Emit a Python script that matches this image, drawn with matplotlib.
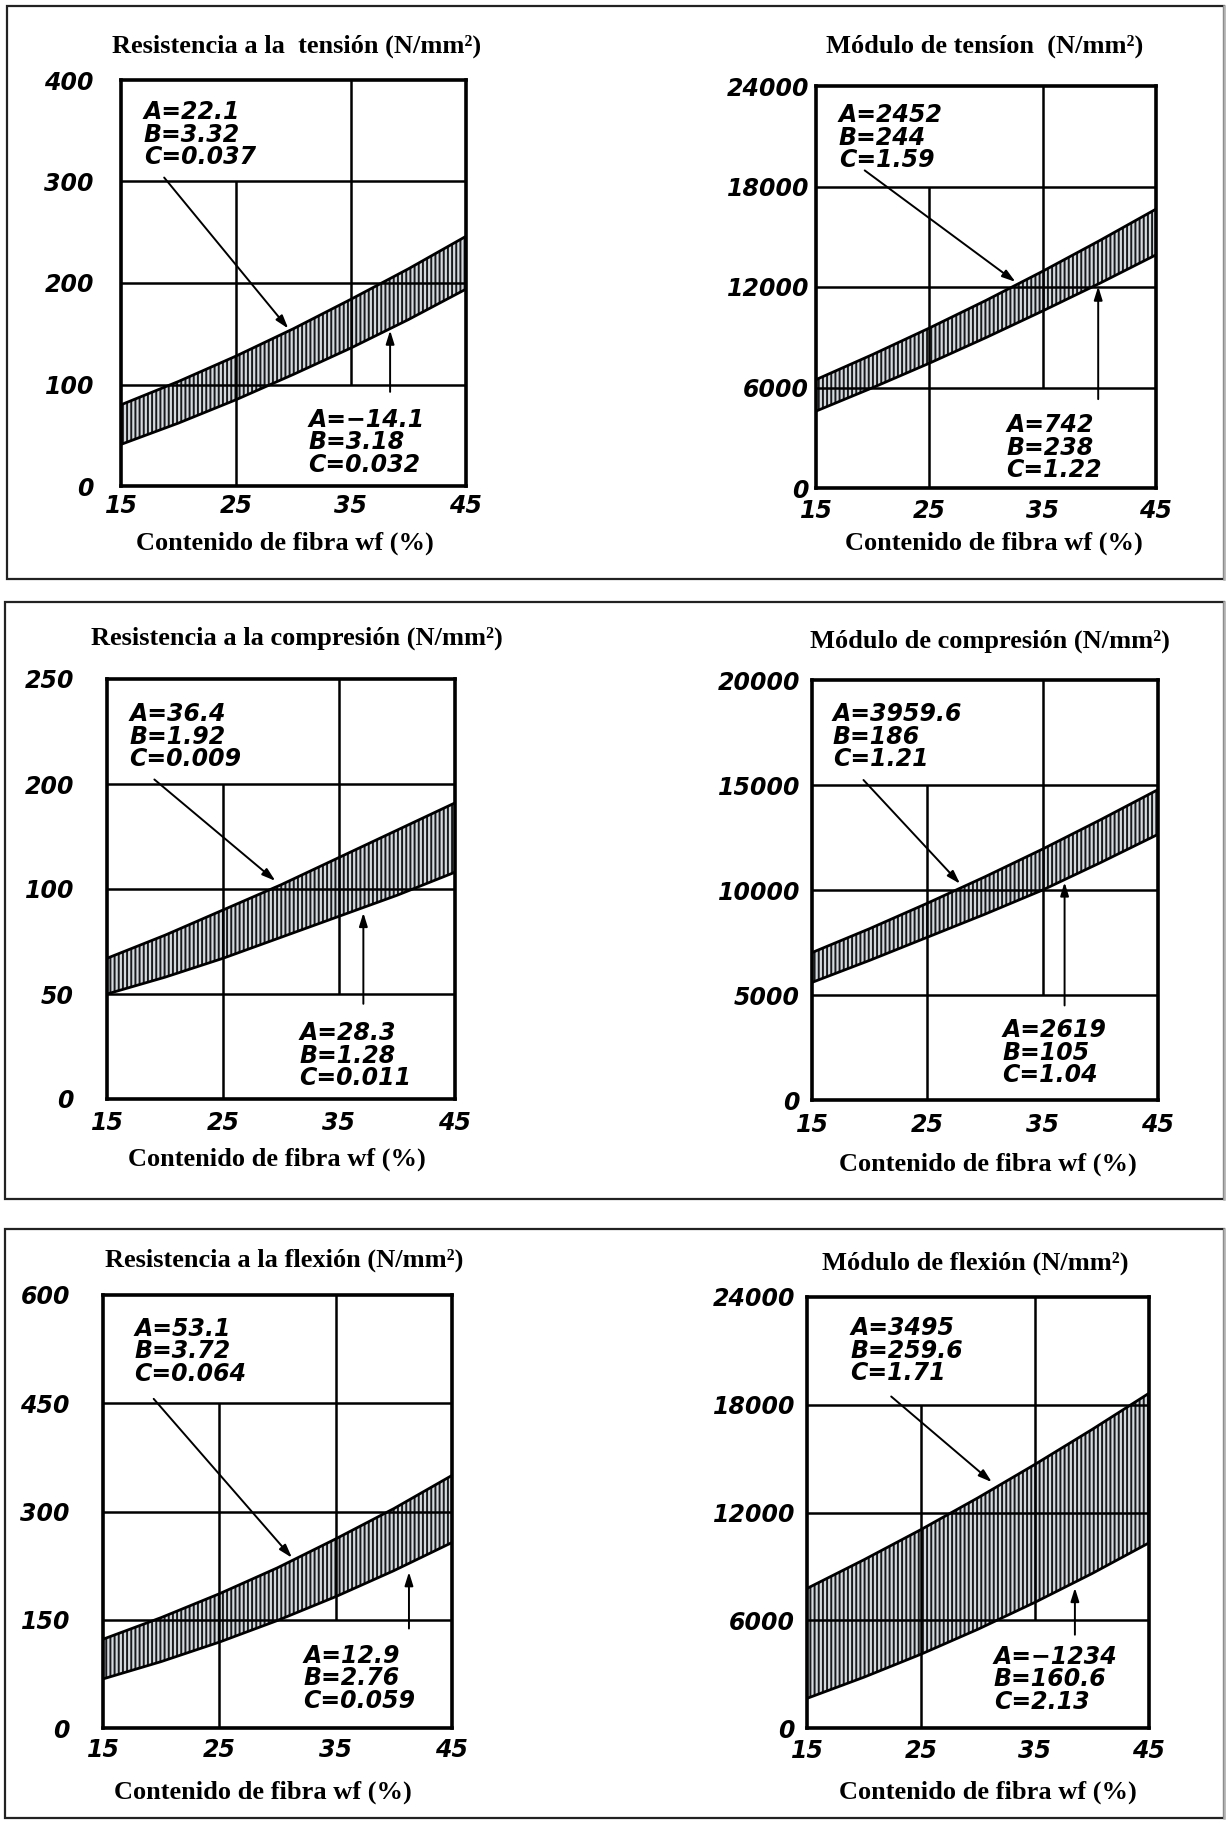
import matplotlib
matplotlib.use('Agg')
import matplotlib.pyplot as plt
from matplotlib.patches import Rectangle

plt.rcParams['hatch.linewidth'] = 1.4

# contenido de fibra wf (%)
fibra = [15, 20, 25, 30, 35, 40, 45]
x_ticks = [15, 25, 35, 45]

# resistencia a la tension
rt_sup = [80, 103, 128, 155, 184, 214, 246]
rt_inf = [41, 62, 85, 110, 136, 164, 194]
rt_yticks = [0, 100, 200, 300, 400]
rt_ylabels = ['0', '100', '200', '300', '400']

# modulo de tension
mt_sup = [6470, 7970, 9550, 11200, 12940, 14760, 16650]
mt_inf = [4590, 5990, 7450, 8980, 10570, 12210, 13920]
mt_yticks = [0, 6000, 12000, 18000, 24000]
mt_ylabels = ['0', '6000', '12000', '18000', '24000']

# resistencia a la compresion (etiquetas tal como en el original)
rc_sup = [67, 78, 90, 102, 115, 128, 141]
rc_inf = [50, 58, 67, 77, 87, 97, 108]
rc_yticks = [0, 50, 100, 150, 200]
rc_ylabels = ['0', '50', '100', '200', '250']

# modulo de compresion
mc_sup = [7020, 8160, 9370, 10630, 11950, 13340, 14780]
mc_inf = [5600, 6650, 7750, 8850, 10000, 11300, 12650]
mc_yticks = [0, 5000, 10000, 15000, 20000]
mc_ylabels = ['0', '5000', '10000', '15000', '20000']

# resistencia a la flexion
rf_sup = [123, 153, 186, 222, 262, 304, 350]
rf_inf = [68, 92, 119, 149, 182, 218, 257]
rf_yticks = [0, 150, 300, 450, 600]
rf_ylabels = ['0', '150', '300', '450', '600']

# modulo de flexion
mf_sup = [7770, 9370, 11050, 12820, 14680, 16620, 18640]
mf_inf = [1650, 2830, 4110, 5500, 7000, 8600, 10310]
mf_yticks = [0, 6000, 12000, 18000, 24000]
mf_ylabels = ['0', '6000', '12000', '18000', '24000']

titles = ['Resistencia a la  tensión (N/mm²)', 'Módulo de tensíon  (N/mm²)',
          'Resistencia a la compresión (N/mm²)', 'Módulo de compresión (N/mm²)',
          'Resistencia a la flexión (N/mm²)', 'Módulo de flexión (N/mm²)']
xlabel = 'Contenido de fibra wf (%)'

coef_sup = ['A=22.1\nB=3.32\nC=0.037', 'A=2452\nB=244\nC=1.59',
            'A=36.4\nB=1.92\nC=0.009', 'A=3959.6\nB=186\nC=1.21',
            'A=53.1\nB=3.72\nC=0.064', 'A=3495\nB=259.6\nC=1.71']
coef_inf = ['A=\u221214.1\nB=3.18\nC=0.032', 'A=742\nB=238\nC=1.22',
            'A=28.3\nB=1.28\nC=0.011', 'A=2619\nB=105\nC=1.04',
            'A=12.9\nB=2.76\nC=0.059', 'A=\u22121234\nB=160.6\nC=2.13']

series = [(rt_sup, rt_inf, rt_yticks, rt_ylabels),
          (mt_sup, mt_inf, mt_yticks, mt_ylabels),
          (rc_sup, rc_inf, rc_yticks, rc_ylabels),
          (mc_sup, mc_inf, mc_yticks, mc_ylabels),
          (rf_sup, rf_inf, rf_yticks, rf_ylabels),
          (mf_sup, mf_inf, mf_yticks, mf_ylabels)]

# layout in pixels of the page: axes box, title centre, xlabel centre,
# y label pad (px), x label pad (pt), upper text, upper arrow, lower text, lower arrow
layout = [
    ((121, 80, 466, 486), (297, 46), (285, 543), 27, 6,
     (17.0, 380), (18.6, 306, 29.7, 153), (31.3, 77), (38.4, 90, 156)),
    ((816, 86, 1156, 488), (985, 46), (994, 543), 7, 8,
     (17.0, 22970), (19.1, 19060, 32.8, 12206), (31.8, 4457), (39.9, 5140, 12200)),
    ((107, 679, 455, 1099), (297, 638), (277, 1159), 33, 9,
     (16.9, 189), (18.9, 153, 29.7, 103), (31.6, 37), (37.1, 44, 90)),
    ((812, 680, 1158, 1100), (990, 641), (988, 1164), 12, 9,
     (16.8, 18950), (19.3, 15335, 28.0, 10200), (31.5, 3900), (36.9, 4370, 10500)),
    ((103, 1295, 452, 1728), (284, 1260), (263, 1792), 33, 7,
     (17.7, 570), (19.2, 459, 31.4, 233), (32.2, 117), (41.3, 134, 220)),
    ((807, 1297, 1149, 1728), (975, 1263), (988, 1792), 12, 8,
     (18.8, 22940), (22.2, 18560, 31.4, 13590), (31.4, 4640), (38.5, 5040, 7960)),
]

W, H = 1226, 1823
fig = plt.figure(figsize=(W / 100, H / 100), dpi=100)
fig.patch.set_facecolor('white')

# frames around each row (right side is only a faint line in the scan)
for l, t, r, b in [(7, 6, 1224, 579), (5, 602, 1224, 1199), (5, 1229, 1224, 1818)]:
    fig.add_artist(Rectangle((l / W, 1 - b / H), (r - l) / W, (b - t) / H,
                             transform=fig.transFigure, fill=False,
                             edgecolor='#222222', lw=1.6))
    fig.add_artist(plt.Line2D([r / W, r / W], [1 - b / H, 1 - t / H],
                              transform=fig.transFigure, color='#b0b0b0', lw=1.8))

tick_font = dict(family='DejaVu Sans', weight='bold', style='oblique', size=17)
coef_font = dict(family='DejaVu Sans', weight='bold', style='oblique', size=17)
serif = dict(family='Liberation Serif', weight='bold', size=19)

for i in range(6):
    sup, inf, yt, yl = series[i]
    box, tpos, xpos, ypad, xpad, ts, asup, ti, ainf = layout[i]
    l, t, r, b = box
    ax = fig.add_axes([l / W, 1 - b / H, (r - l) / W, (b - t) / H])

    ax.fill_between(fibra, inf, sup, facecolor='#d3dae0', edgecolor='#1a1a1a',
                    hatch='||||', linewidth=0, zorder=2)
    ax.plot(fibra, sup, color='black', lw=2.0, zorder=3)
    ax.plot(fibra, inf, color='black', lw=2.0, zorder=3)

    # grid, with the lines left out where the coefficients are written
    for y in yt[1:-1]:
        ax.axhline(y, color='black', lw=1.8, zorder=4)
    ax.vlines(25, yt[0], yt[-2], color='black', lw=1.8, zorder=4)
    ax.vlines(35, yt[1], yt[-1], color='black', lw=1.8, zorder=4)

    ax.set_xlim(15, 45)
    ax.set_ylim(yt[0], yt[-1])
    ax.set_xticks(x_ticks)
    ax.set_xticklabels([str(v) for v in x_ticks], fontdict=tick_font)
    ax.set_yticks(yt)
    ax.set_yticklabels(yl, fontdict=tick_font)
    ax.tick_params(axis='both', length=0)
    ax.tick_params(axis='y', pad=ypad * 0.72)
    ax.tick_params(axis='x', pad=xpad)
    if i % 2 == 1:
        # the zero sits just above the corner on the right-hand charts
        ax.get_yticklabels()[0].set_verticalalignment('center_baseline')
    for s in ax.spines.values():
        s.set_linewidth(2.6)
        s.set_zorder(5)

    ax.text(ts[0], ts[1], coef_sup[i], ha='left', va='top', linespacing=0.92,
            zorder=6, **coef_font)
    ax.text(ti[0], ti[1], coef_inf[i], ha='left', va='top', linespacing=0.92,
            zorder=6, **coef_font)
    ax.annotate('', xy=(asup[2], asup[3]), xytext=(asup[0], asup[1]),
                arrowprops=dict(arrowstyle='-|>,head_length=0.8,head_width=0.25',
                                color='black', lw=1.4), zorder=6)
    ax.annotate('', xy=(ainf[0], ainf[2]), xytext=(ainf[0], ainf[1]),
                arrowprops=dict(arrowstyle='-|>,head_length=0.8,head_width=0.25',
                                color='black', lw=1.4), zorder=6)

    fig.text(tpos[0] / W, 1 - tpos[1] / H, titles[i], ha='center', va='center', **serif)
    fig.text(xpos[0] / W, 1 - xpos[1] / H, xlabel, ha='center', va='center', **serif)

fig.savefig('out.png', dpi=100)
